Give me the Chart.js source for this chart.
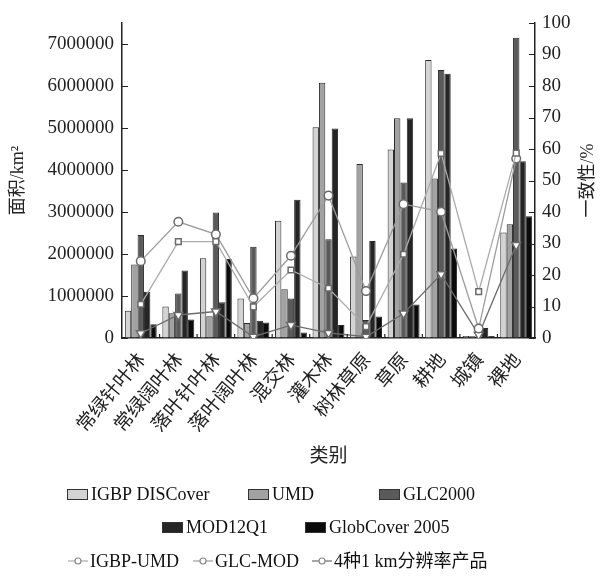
<!DOCTYPE html>
<html>
<head>
<meta charset="utf-8">
<script src="https://cdn.jsdelivr.net/npm/chart.js@4.4.1/dist/chart.umd.min.js"></script>
<style>
  body { margin: 0; background: #fff; }
</style>
</head>
<body>
<canvas id="chart" width="608" height="580"></canvas>
<script>
// categories and values
const categories = ['常绿针叶林', '常绿阔叶林', '落叶针叶林', '落叶阔叶林', '混交林', '灌木林', '树林草原', '草原', '耕地', '城镇', '裸地'];

const igbp      = [650000, 750000, 1900000, 940000, 2790000, 5020000, 1940000, 4490000, 6620000, 50000, 2510000];
const umd       = [1750000, 590000, 520000, 360000, 1160000, 6080000, 4140000, 5230000, 3800000, 40000, 2710000];
const glc2000   = [2450000, 1060000, 2990000, 2170000, 940000, 2350000, 430000, 3700000, 6380000, 40000, 7150000];
const mod12q1   = [1100000, 1610000, 850000, 410000, 3290000, 4990000, 2310000, 5230000, 6290000, 240000, 4210000];
const globcover = [330000, 440000, 1880000, 370000, 130000, 310000, 510000, 800000, 2130000, 50000, 2900000];

// consistency (%), right axis
const igbpUmd   = [10.7, 30.6, 30.6, 9.9, 21.6, 15.8, 3.6, 26.6, 58.6, 14.7, 58.7];
const glcMod    = [24.4, 36.9, 32.9, 12.6, 26.1, 45.2, 14.9, 42.5, 40.1, 3, 57];
const fourProds = [1.5, 7.3, 8.4, 0.4, 4.1, 1.6, 0.4, 7.8, 20.2, 1, 29.5];

// tick labels
const areaTicks = [0, 1000000, 2000000, 3000000, 4000000, 5000000, 6000000, 7000000];
const areaMax = 7500000;
const pctMax = 100;

const serif = "'Liberation Serif', 'Noto Sans CJK SC', serif";
const cjk = "'Noto Sans CJK SC', sans-serif";

function barSet(label, data, color) {
  return {
    type: 'bar', label: label, data: data, yAxisID: 'y', order: 2,
    backgroundColor: color, borderColor: '#2a2a2a', borderWidth: 1,
    categoryPercentage: 0.85, barPercentage: 1.0
  };
}

function lineSet(label, data, color, style, rot, r) {
  return {
    type: 'line', label: label, data: data, yAxisID: 'y1', order: 0,
    borderColor: color, borderWidth: 1.3, tension: 0,
    pointStyle: style, rotation: rot, pointRadius: r,
    pointBackgroundColor: '#fff', pointBorderColor: '#6a6a6a', pointBorderWidth: 1.5
  };
}

// inward tick marks on the three axes, plus the right title (reads bottom to top)
const axisExtras = {
  id: 'axisExtras',
  afterDraw(chart) {
    const ctx = chart.ctx, a = chart.chartArea;
    const sy = chart.scales.y, sy1 = chart.scales.y1, sx = chart.scales.x;
    ctx.save();
    ctx.strokeStyle = '#222';
    ctx.lineWidth = 1.2;
    ctx.beginPath();
    sy.ticks.forEach(t => {
      const py = Math.round(sy.getPixelForValue(t.value)) + 0.5;
      ctx.moveTo(a.left, py); ctx.lineTo(a.left + 6, py);
    });
    sy1.ticks.forEach(t => {
      const py = Math.round(sy1.getPixelForValue(t.value)) + 0.5;
      ctx.moveTo(a.right, py); ctx.lineTo(a.right - 6, py);
    });
    for (let i = 1; i < categories.length; i++) {
      const px = (sx.getPixelForValue(i - 1) + sx.getPixelForValue(i)) / 2;
      ctx.moveTo(px, a.bottom); ctx.lineTo(px, a.bottom - 4);
    }
    ctx.stroke();

    ctx.translate(588, (a.top + a.bottom) / 2);
    ctx.rotate(-Math.PI / 2);
    ctx.font = '18px ' + serif;
    ctx.fillStyle = '#222';
    ctx.textAlign = 'center';
    ctx.textBaseline = 'middle';
    ctx.fillText('一致性/%', 0, 0);
    ctx.restore();
  }
};

// legend laid out in three rows like the figure
const legendSpots = [
  [67, 494], [248, 494], [379, 494],
  [162, 527], [305, 527],
  [68, 561], [193, 561], [312, 561]
];

const customLegend = {
  id: 'customLegend',
  afterDraw(chart) {
    const ctx = chart.ctx;
    ctx.save();
    ctx.font = '18px ' + serif;
    ctx.textBaseline = 'middle';
    chart.data.datasets.forEach((ds, i) => {
      const [x, y] = legendSpots[i];
      if (ds.type === 'bar') {
        ctx.fillStyle = ds.backgroundColor;
        ctx.fillRect(x, y - 5, 21, 11);
        ctx.strokeStyle = '#333';
        ctx.lineWidth = 1;
        ctx.strokeRect(x + 0.5, y - 4.5, 20, 10);
        ctx.fillStyle = '#111';
        ctx.fillText(ds.label, x + 24, y + 1);
      } else {
        ctx.strokeStyle = ds.borderColor;
        ctx.lineWidth = 1.2;
        ctx.beginPath();
        ctx.moveTo(x, y); ctx.lineTo(x + 20, y);
        ctx.stroke();
        ctx.fillStyle = '#fff';
        ctx.strokeStyle = '#888';
        ctx.beginPath();
        ctx.arc(x + 10, y, 3, 0, Math.PI * 2);
        ctx.fill(); ctx.stroke();
        ctx.fillStyle = '#111';
        ctx.fillText(ds.label, x + 22, y + 1);
      }
    });
    ctx.restore();
  }
};

const chart = new Chart(document.getElementById('chart'), {
  data: {
    labels: categories,
    datasets: [
      barSet('IGBP DISCover', igbp, '#d3d3d3'),
      barSet('UMD', umd, '#a2a2a2'),
      barSet('GLC2000', glc2000, '#5a5a5a'),
      barSet('MOD12Q1', mod12q1, '#252525'),
      barSet('GlobCover 2005', globcover, '#0b0b0b'),
      lineSet('IGBP-UMD', igbpUmd, '#ababab', 'rect', 0, 4),
      lineSet('GLC-MOD', glcMod, '#9c9c9c', 'circle', 0, 4.3),
      lineSet('4种1 km分辨率产品', fourProds, '#6c6c6c', 'triangle', 180, 5)
    ]
  },
  options: {
    responsive: false,
    animation: false,
    layout: { padding: { top: 23, bottom: 110, left: 0, right: 0 } },
    plugins: { legend: { display: false }, tooltip: { enabled: false } },
    scales: {
      x: {
        type: 'category',
        grid: { display: false },
        border: { display: true, color: '#222', width: 1.5 },
        ticks: {
          autoSkip: false, maxRotation: 50, minRotation: 50, padding: 2,
          color: '#222', font: { family: cjk, size: 19 }
        },
        title: {
          display: true, text: '类别', color: '#222',
          font: { family: cjk, size: 19 }, padding: { top: 2, bottom: 4 }
        },
        afterFit(scale) { scale.height = 132; }
      },
      y: {
        type: 'linear', position: 'left', min: 0, max: areaMax,
        grid: { drawOnChartArea: false, drawTicks: false },
        border: { display: true, color: '#222', width: 1.5 },
        afterBuildTicks(scale) { scale.ticks = areaTicks.map(v => ({ value: v })); },
        ticks: {
          padding: 8, color: '#222',
          font: { family: serif, size: 19 },
          callback: v => String(v)
        },
        title: {
          display: true, text: '面积/km²', color: '#222',
          font: { family: serif, size: 18 }, padding: { top: 7, bottom: 0 }
        },
        afterFit(scale) { scale.width = 122; }
      },
      y1: {
        type: 'linear', position: 'right', min: 0, max: pctMax,
        grid: { drawOnChartArea: false, drawTicks: false },
        border: { display: true, color: '#222', width: 1.5 },
        ticks: {
          stepSize: 10, padding: 7, color: '#222',
          font: { family: serif, size: 19 }
        },
        title: { display: false },
        afterFit(scale) { scale.width = 73; }
      }
    }
  },
  plugins: [axisExtras, customLegend]
});
</script>
</body>
</html>
